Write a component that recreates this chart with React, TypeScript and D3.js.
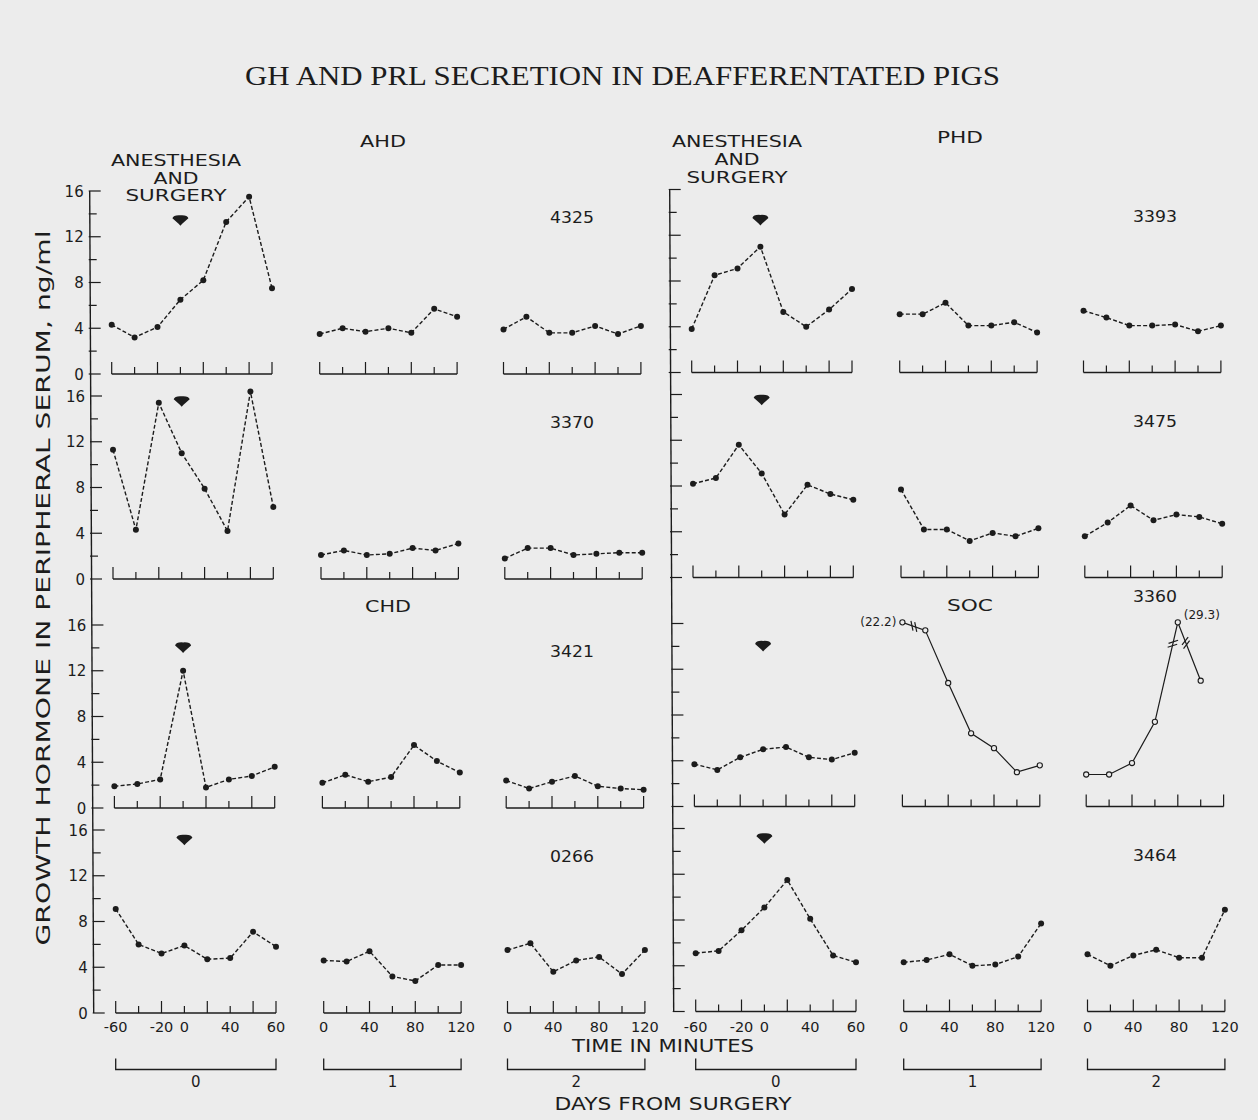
import React from "react";
import * as d3 from "d3";

const W = 1258;
const H = 1120;

const title = "GH AND PRL SECRETION IN DEAFFERENTATED PIGS";
const yTitle = "GROWTH HORMONE IN PERIPHERAL SERUM, ng/ml";
const xTitle = "TIME IN MINUTES";
const dayTitle = "DAYS FROM SURGERY";
const surgeryNote = ["ANESTHESIA", "AND", "SURGERY"];
const dayLabels = ["0", "1", "2"];
const day0TickLabels = ["-60", "", "-20", "0", "", "40", "", "60"];
const day12TickLabels = ["0", "", "40", "", "80", "", "120"];
const yTickValues = [0, 2, 4, 6, 8, 10, 12, 14, 16];
const groupLabels = ["AHD", "PHD", "CHD", "SOC"];
const pigIds = ["4325", "3393", "3370", "3475", "3421", "3360", "0266", "3464"];
// level of the "anesthesia and surgery" arrow in each panel (ng/ml)
const arrowLevels = [13.4, 13.3, 15.5, 15.5, 14.0, 14.0, 15.1, 15.1];

// GH, ng/ml: day 0, day 1, day 2
const gh4325 = [
  [4.3, 3.2, 4.1, 6.5, 8.2, 13.3, 15.5, 7.5],
  [3.5, 4.0, 3.7, 4.0, 3.6, 5.7, 5.0],
  [3.9, 5.0, 3.6, 3.6, 4.2, 3.5, 4.2],
];
const gh3393 = [
  [3.8, 8.5, 9.1, 11.0, 5.3, 4.0, 5.5, 7.3],
  [5.1, 5.1, 6.1, 4.1, 4.1, 4.4, 3.5],
  [5.4, 4.8, 4.1, 4.1, 4.2, 3.6, 4.1],
];
const gh3370 = [
  [11.3, 4.3, 15.4, 11.0, 7.9, 4.2, 16.4, 6.3],
  [2.1, 2.5, 2.1, 2.2, 2.7, 2.5, 3.1],
  [1.8, 2.7, 2.7, 2.1, 2.2, 2.3, 2.3],
];
const gh3475 = [
  [8.2, 8.7, 11.6, 9.1, 5.5, 8.1, 7.3, 6.8],
  [7.7, 4.2, 4.2, 3.2, 3.9, 3.6, 4.3],
  [3.6, 4.8, 6.3, 5.0, 5.5, 5.3, 4.7],
];
const gh3421 = [
  [1.9, 2.1, 2.5, 12.0, 1.8, 2.5, 2.8, 3.6],
  [2.2, 2.9, 2.3, 2.7, 5.5, 4.1, 3.1],
  [2.4, 1.7, 2.3, 2.8, 1.9, 1.7, 1.6],
];
const gh3360 = [
  [3.7, 3.2, 4.3, 5.0, 5.2, 4.3, 4.1, 4.7],
  [22.2, 15.4, 10.8, 6.4, 5.1, 3.0, 3.6],
  [2.8, 2.8, 3.8, 7.4, 29.3, 11.0],
];
const gh0266 = [
  [9.1, 6.0, 5.2, 5.9, 4.7, 4.8, 7.1, 5.8],
  [4.6, 4.5, 5.4, 3.2, 2.8, 4.2, 4.2],
  [5.5, 6.1, 3.6, 4.6, 4.9, 3.4, 5.5],
];
const gh3464 = [
  [5.1, 5.3, 7.1, 9.1, 11.5, 8.1, 4.9, 4.3],
  [4.3, 4.5, 5.0, 4.0, 4.1, 4.8, 7.7],
  [5.0, 4.0, 4.9, 5.4, 4.7, 4.7, 8.9],
];
const seriesByPig = [gh4325, gh3393, gh3370, gh3475, gh3421, gh3360, gh0266, gh3464];

const ink = "#1c1c1c";
const paper = "#ececec";
const sans = "'DejaVu Sans', Verdana, sans-serif";
const serif = "'Liberation Serif', 'Times New Roman', serif";

const rowY0 = [374, 579, 808, 1013];
const rowDx = [-2, -0.7, 0.7, 2];
const sideDx = [0, 580];
const sideDy = [0, -1.5];
const plotH = 183;
const axisX = 91.7;
const dayX0 = [113.7, 321.7, 505.5];
const step = 22.9;
const yMax = 16;
const offScale = 18; // values above this are drawn at the top with a break

const shown = (v: number) => (v > offScale ? yMax + 0.1 : v);

function breakMark(a: [number, number], b: [number, number], key: string) {
  // a = off-scale point, b = neighbour
  const dx = b[0] - a[0];
  const dy = b[1] - a[1];
  const len = Math.hypot(dx, dy);
  const ux = dx / len;
  const uy = dy / len;
  const d = Math.min(len / 2, 22);
  const px = a[0] + ux * d;
  const py = a[1] + uy * d;
  let mx = -uy + 0.6 * ux;
  let my = ux + 0.6 * uy;
  const ml = Math.hypot(mx, my);
  mx /= ml;
  my /= ml;
  return [-2, 2].map((o) => {
    const cx = px + ux * o;
    const cy = py + uy * o;
    return (
      <line
        key={key + o}
        x1={cx - 5 * mx}
        y1={cy - 5 * my}
        x2={cx + 5 * mx}
        y2={cy + 5 * my}
        stroke={ink}
        strokeWidth={1.2}
      />
    );
  });
}

function Panel({ index }: { index: number }) {
  const row = Math.floor(index / 2);
  const side = index % 2;
  const series = seriesByPig[index];
  const y0 = rowY0[row] + sideDy[side];
  const dx = rowDx[row] + sideDx[side];
  const y = d3.scaleLinear().domain([0, yMax]).range([y0, y0 - plotH]);

  const parts: React.ReactNode[] = [];
  series.forEach((vals, d) => {
    // SOC pig 3360: days 1 and 2 drawn with open symbols and solid line
    const open = pigIds[index] === "3360" && d > 0;
    const n = d === 0 ? 8 : 7;
    const x0 = dayX0[d] + dx;
    const x = d3
      .scalePoint<number>()
      .domain(d3.range(n))
      .range([x0, x0 + (n - 1) * step]);
    parts.push(
      <line key={`b${d}`} x1={x0} x2={x0 + (n - 1) * step} y1={y0} y2={y0} stroke={ink} strokeWidth={1.3} />
    );
    d3.range(n).forEach((i) => {
      const tall = i % 2 === 0 || i === n - 1;
      parts.push(
        <line key={`t${d}-${i}`} x1={x(i)} x2={x(i)} y1={y0} y2={y0 - (tall ? 12 : 7)} stroke={ink} strokeWidth={1.2} />
      );
    });
    const line = d3
      .line<number>()
      .x((_, i) => x(i) as number)
      .y((v) => y(shown(v)));
    parts.push(
      <path
        key={`l${d}`}
        d={line(vals) || ""}
        fill="none"
        stroke={ink}
        strokeWidth={open ? 1.2 : 1.4}
        strokeDasharray={open ? undefined : "4 2.2"}
      />
    );
    vals.forEach((v, i) => {
      const px = x(i) as number;
      const py = y(shown(v));
      parts.push(
        open ? (
          <circle key={`p${d}-${i}`} cx={px} cy={py} r={2.6} fill={paper} stroke={ink} strokeWidth={1.1} />
        ) : (
          <circle key={`p${d}-${i}`} cx={px} cy={py} r={3} fill={ink} />
        )
      );
      if (v > offScale) {
        const first = i === 0;
        parts.push(
          <text
            key={`o${d}-${i}`}
            x={first ? px - 6 : px + 6}
            y={first ? py + 4 : py - 3}
            textAnchor={first ? "end" : "start"}
            fontFamily={sans}
            fontSize={12}
            fill={ink}
          >
            {`(${v})`}
          </text>
        );
        const a: [number, number] = [px, py];
        if (i > 0) parts.push(...breakMark(a, [x(i - 1) as number, y(shown(vals[i - 1]))], `k${d}-${i}a`));
        if (i < vals.length - 1) parts.push(...breakMark(a, [x(i + 1) as number, y(shown(vals[i + 1]))], `k${d}-${i}b`));
      }
    });
    if (d === 0) {
      const ax = x(3) as number;
      const ay = y(arrowLevels[index]);
      parts.push(
        <path
          key="arrow"
          transform={`translate(${ax},${ay})`}
          d="M-8,-2.5 Q-7,-6 0,-5.5 Q7,-6 8,-2.5 L1.8,3 L0,5 L-1.8,3 Z"
          fill={ink}
        />
      );
    }
    if (row === 3) {
      const labels = d === 0 ? day0TickLabels : day12TickLabels;
      labels.forEach((lab, i) => {
        if (!lab) return;
        parts.push(
          <text key={`xl${d}-${i}`} x={x(i)} y={1032} textAnchor="middle" fontFamily={sans} fontSize={14.5} fill={ink}>
            {lab}
          </text>
        );
      });
      const xa = x0;
      const xb = x0 + (n - 1) * step;
      parts.push(
        <path
          key={`br${d}`}
          d={`M${xa},1058.5 V1069.5 H${xb} V1058.5`}
          fill="none"
          stroke={ink}
          strokeWidth={1.3}
        />,
        <text key={`dl${d}`} x={(xa + xb) / 2} y={1087} textAnchor="middle" fontFamily={sans} fontSize={15} fill={ink}>
          {dayLabels[d]}
        </text>
      );
    }
  });

  // y ticks
  const ax = axisX + dx;
  yTickValues.forEach((v) => {
    const major = v % 4 === 0;
    parts.push(
      <line key={`yt${v}`} x1={ax - 1} x2={ax + (major ? 11 : 7)} y1={y(v)} y2={y(v)} stroke={ink} strokeWidth={1.2} />
    );
    if (side === 0 && major) {
      parts.push(
        <text key={`yl${v}`} x={ax - 6} y={y(v) + 5.5} textAnchor="end" fontFamily={sans} fontSize={15} fill={ink}>
          {v}
        </text>
      );
    }
  });

  // pig number
  const idX = side === 0 ? 572 : 1155;
  const idY = pigIds[index] === "3360" ? y0 - 205 : y0 - 151;
  parts.push(
    <text key="id" x={idX} y={idY} textAnchor="middle" fontFamily={sans} fontSize={15} fill={ink} textLength={44} lengthAdjust="spacingAndGlyphs">
      {pigIds[index]}
    </text>
  );

  return <g>{parts}</g>;
}

export default function App() {
  const groupPos: [number, number][] = [
    [383, 147],
    [960, 143],
    [388, 612],
    [970, 611],
  ];
  const notePos = [
    { x: 176, ys: [166, 184, 201] },
    { x: 737, ys: [147, 165, 182.5] },
  ];
  const noteWidths = [130, 45, 101];

  return (
    <div style={{ position: "absolute", left: 0, top: 0 }}>
      <svg width={W} height={H} viewBox={`0 0 ${W} ${H}`} style={{ display: "block" }}>
        <rect width={W} height={H} fill={paper} />
        <text x={245} y={85} fontFamily={serif} fontSize={28} fill={ink} textLength={755} lengthAdjust="spacingAndGlyphs">
          {title}
        </text>
        <text
          x={50}
          y={588}
          transform="rotate(-90, 50, 588)"
          textAnchor="middle"
          fontFamily={sans}
          fontSize={19}
          fill={ink}
          textLength={715}
          lengthAdjust="spacingAndGlyphs"
        >
          {yTitle}
        </text>

        {/* y axes: one slightly tilted straight line per side, as in the scan */}
        {[0, 1].map((s) => (
          <line
            key={`ax${s}`}
            x1={axisX + rowDx[0] + sideDx[s]}
            y1={rowY0[0] + sideDy[s] - plotH}
            x2={axisX + rowDx[3] + sideDx[s]}
            y2={rowY0[3] + sideDy[s]}
            stroke={ink}
            strokeWidth={1.4}
          />
        ))}

        {pigIds.map((_, i) => (
          <Panel key={i} index={i} />
        ))}

        {notePos.map((p, s) =>
          surgeryNote.map((t, k) => (
            <text
              key={`n${s}-${k}`}
              x={p.x}
              y={p.ys[k]}
              textAnchor="middle"
              fontFamily={sans}
              fontSize={15}
              fill={ink}
              textLength={noteWidths[k]}
              lengthAdjust="spacingAndGlyphs"
            >
              {t}
            </text>
          ))
        )}

        {groupLabels.map((g, i) => (
          <text
            key={g}
            x={groupPos[i][0]}
            y={groupPos[i][1]}
            textAnchor="middle"
            fontFamily={sans}
            fontSize={15.5}
            fill={ink}
            textLength={46}
            lengthAdjust="spacingAndGlyphs"
          >
            {g}
          </text>
        ))}

        <text x={663} y={1052} textAnchor="middle" fontFamily={sans} fontSize={17} fill={ink} textLength={182} lengthAdjust="spacingAndGlyphs">
          {xTitle}
        </text>
        <text x={673} y={1110} textAnchor="middle" fontFamily={sans} fontSize={17} fill={ink} textLength={237} lengthAdjust="spacingAndGlyphs">
          {dayTitle}
        </text>
      </svg>
    </div>
  );
}
